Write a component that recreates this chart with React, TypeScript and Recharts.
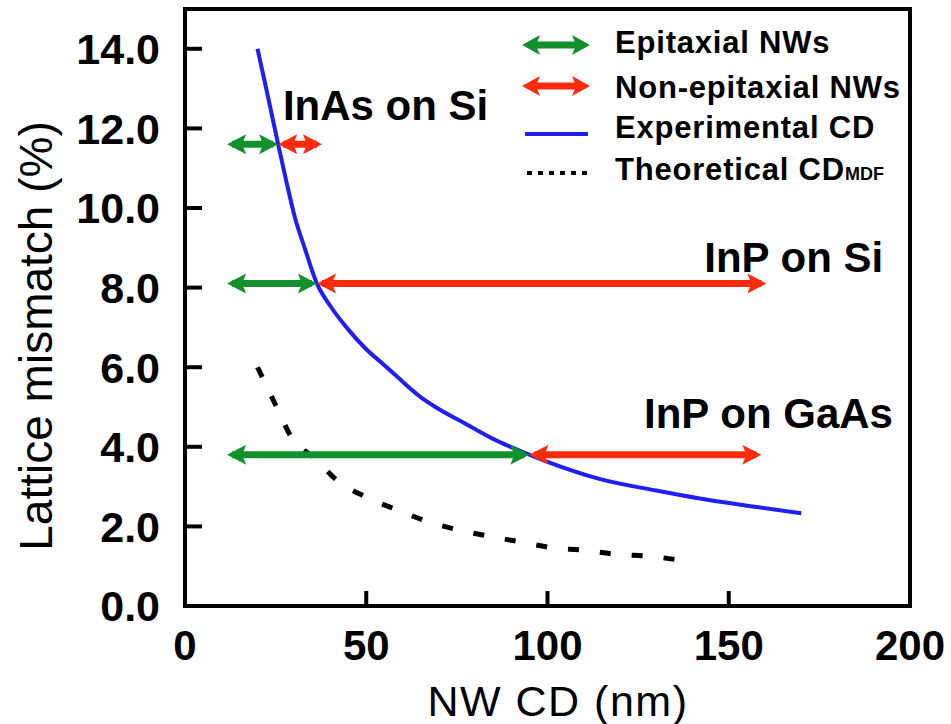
import React from 'react';
import { ComposedChart, Line, XAxis, YAxis, ReferenceArea, ReferenceDot, Legend } from 'recharts';

const FONT = '"Liberation Sans", Arial, Helvetica, sans-serif';
const GREEN = '#12902c';
const RED = '#ff2b0e';
const BLUE = '#1f1ff2';

const experimentalCD = [
  { x: 20, y: 14.0 }, { x: 23, y: 12.75 }, { x: 25.7, y: 11.6 }, { x: 28, y: 10.65 },
  { x: 30.3, y: 9.77 }, { x: 33, y: 9.0 }, { x: 36.4, y: 8.1 }, { x: 40, y: 7.55 },
  { x: 45, y: 6.95 }, { x: 50, y: 6.45 }, { x: 55, y: 6.05 }, { x: 59, y: 5.72 },
  { x: 65, y: 5.25 }, { x: 70, y: 4.95 }, { x: 78, y: 4.55 }, { x: 85, y: 4.2 },
  { x: 95, y: 3.8 }, { x: 100, y: 3.62 }, { x: 114, y: 3.2 }, { x: 130, y: 2.9 },
  { x: 142, y: 2.7 }, { x: 155, y: 2.52 }, { x: 170, y: 2.33 },
];

const theoreticalCD = [
  { x: 20, y: 6.0 }, { x: 25, y: 5.05 }, { x: 29.5, y: 4.22 }, { x: 36, y: 3.7 },
  { x: 42, y: 3.15 }, { x: 49.6, y: 2.75 }, { x: 59, y: 2.4 }, { x: 67, y: 2.12 },
  { x: 76, y: 1.9 }, { x: 84, y: 1.75 }, { x: 92, y: 1.62 }, { x: 101, y: 1.47 },
  { x: 110, y: 1.4 }, { x: 119, y: 1.3 }, { x: 128, y: 1.25 }, { x: 138.8, y: 1.12 },
];

const inAsEpitaxial = [{ x: 13, y: 11.6 }, { x: 24.3, y: 11.6 }];
const inAsNonEpitaxial = [{ x: 27.1, y: 11.6 }, { x: 36.4, y: 11.6 }];
const inPSiEpitaxial = [{ x: 13, y: 8.1 }, { x: 35, y: 8.1 }];
const inPSiNonEpitaxial = [{ x: 37.8, y: 8.1 }, { x: 159, y: 8.1 }];
const inPGaAsEpitaxial = [{ x: 13, y: 3.8 }, { x: 93.6, y: 3.8 }];
const inPGaAsNonEpitaxial = [{ x: 96.4, y: 3.8 }, { x: 157.6, y: 3.8 }];

const xTicks = [0, 50, 100, 150, 200];
const yTicks = [0, 2, 4, 6, 8, 10, 12, 14];

const annotations = [
  { text: 'InAs on Si', x: 27, y: 12.21, anchor: 'start' },
  { text: 'InP on Si', x: 192.6, y: 8.39, anchor: 'end' },
  { text: 'InP on GaAs', x: 195.3, y: 4.47, anchor: 'end' },
];

const legendItems = ['Epitaxial NWs', 'Non-epitaxial NWs', 'Experimental CD', 'Theoretical CD'];

const makeArrowHead = (color: string) => (p: any) => {
  const { cx, cy, index } = p;
  if (cx == null || cy == null) return <g key={index} />;
  const dir = index === 0 ? -1 : 1;
  const tip = cx + dir * 5;
  const base = cx - dir * 14;
  const notch = base + dir * 4;
  return (
    <polygon
      key={index}
      points={`${tip},${cy} ${base},${cy - 10} ${notch},${cy} ${base},${cy + 10}`}
      fill={color}
    />
  );
};

const YTick = (p: any) => {
  const { x, y, payload } = p;
  return (
    <g>
      <line x1={x} y1={y} x2={x + 17} y2={y} stroke="#000" strokeWidth={4} />
      <text x={x - 25} y={y} dy="0.36em" textAnchor="end" fontFamily={FONT} fontWeight="bold" fontSize={43} fill="#000">
        {Number(payload.value).toFixed(1)}
      </text>
    </g>
  );
};

const XTick = (p: any) => {
  const { x, y, payload } = p;
  return (
    <g>
      <line x1={x} y1={y} x2={x} y2={y - 15} stroke="#000" strokeWidth={4} />
      <text x={x} y={y + 54} textAnchor="middle" fontFamily={FONT} fontWeight="bold" fontSize={42} fill="#000">
        {payload.value}
      </text>
    </g>
  );
};

const DoubleArrowIcon = ({ x1, x2, y, color }: any) => (
  <g>
    <line x1={x1 + 10} y1={y} x2={x2 - 10} y2={y} stroke={color} strokeWidth={7} />
    <polygon points={`${x1},${y} ${x1 + 18},${y - 10} ${x1 + 14},${y} ${x1 + 18},${y + 10}`} fill={color} />
    <polygon points={`${x2},${y} ${x2 - 18},${y - 10} ${x2 - 14},${y} ${x2 - 18},${y + 10}`} fill={color} />
  </g>
);

const LegendBox = () => {
  const tx = 115;
  const base = [43, 88, 128, 170];
  const textProps = { fontFamily: FONT, fontWeight: 'bold' as const, fontSize: 31, letterSpacing: 0.8, fill: '#000' };
  return (
    <svg width={420} height={200} style={{ display: 'block' }}>
      <DoubleArrowIcon x1={22} x2={90} y={35} color={GREEN} />
      <text x={tx} y={base[0]} {...textProps}>{legendItems[0]}</text>
      <DoubleArrowIcon x1={22} x2={90} y={76} color={RED} />
      <text x={tx} y={base[1]} {...textProps}>{legendItems[1]}</text>
      <line x1={25} y1={124} x2={88} y2={124} stroke={BLUE} strokeWidth={4} />
      <text x={tx} y={base[2]} {...textProps}>{legendItems[2]}</text>
      <line x1={27} y1={163} x2={93} y2={163} stroke="#000" strokeWidth={4} strokeDasharray="5 6" />
      <text x={tx} y={base[3]} {...textProps}>
        {legendItems[3]}
        <tspan fontSize={18} letterSpacing={0}>MDF</tspan>
      </text>
    </svg>
  );
};

export default function App() {
  return (
    <div style={{ position: 'absolute', left: 0, top: 0, background: '#fff' }}>
      <ComposedChart width={951} height={724} margin={{ top: 9, right: 41, bottom: 0, left: 0 }}>
        <XAxis
          type="number"
          dataKey="x"
          domain={[0, 200]}
          ticks={xTicks}
          height={118}
          tickSize={0}
          tickMargin={0}
          tick={<XTick />}
          axisLine={{ stroke: '#000', strokeWidth: 4 }}
          tickLine={false}
          interval={0}
          allowDataOverflow
          label={{
            value: 'NW CD (nm)',
            content: () => (
              <text x={558} y={716} textAnchor="middle" fontFamily={FONT} fontSize={43} letterSpacing={1.5} fill="#000">
                NW CD (nm)
              </text>
            ),
          }}
        />
        <YAxis
          type="number"
          domain={[0, 15]}
          ticks={yTicks}
          width={185}
          tickSize={0}
          tickMargin={0}
          tick={<YTick />}
          axisLine={{ stroke: '#000', strokeWidth: 4 }}
          tickLine={false}
          interval={0}
          allowDataOverflow
          label={{
            value: 'Lattice mismatch (%)',
            content: () => (
              <text transform="translate(52,336) rotate(-90)" textAnchor="middle" fontFamily={FONT} fontSize={46} fill="#000">
                Lattice mismatch (%)
              </text>
            ),
          }}
        />
        <ReferenceArea x1={0} x2={200} y1={0} y2={15} fill="none" stroke="#000" strokeWidth={4} ifOverflow="visible" />
        <Legend
          layout="horizontal"
          verticalAlign="middle"
          align="center"
          wrapperStyle={{ left: 500, top: 10, width: 420, height: 200 }}
          content={() => <LegendBox />}
        />
        <Line data={theoreticalCD} dataKey="y" type="monotone" stroke="#000" strokeWidth={5} strokeDasharray="11 21" dot={false} isAnimationActive={false} legendType="none" />
        <Line data={experimentalCD} dataKey="y" type="monotone" stroke={BLUE} strokeWidth={4} dot={false} isAnimationActive={false} legendType="none" />
        <Line data={inAsEpitaxial} dataKey="y" type="linear" stroke={GREEN} strokeWidth={7} dot={makeArrowHead(GREEN)} isAnimationActive={false} legendType="none" />
        <Line data={inAsNonEpitaxial} dataKey="y" type="linear" stroke={RED} strokeWidth={7} dot={makeArrowHead(RED)} isAnimationActive={false} legendType="none" />
        <Line data={inPSiEpitaxial} dataKey="y" type="linear" stroke={GREEN} strokeWidth={7} dot={makeArrowHead(GREEN)} isAnimationActive={false} legendType="none" />
        <Line data={inPSiNonEpitaxial} dataKey="y" type="linear" stroke={RED} strokeWidth={7} dot={makeArrowHead(RED)} isAnimationActive={false} legendType="none" />
        <Line data={inPGaAsEpitaxial} dataKey="y" type="linear" stroke={GREEN} strokeWidth={7} dot={makeArrowHead(GREEN)} isAnimationActive={false} legendType="none" />
        <Line data={inPGaAsNonEpitaxial} dataKey="y" type="linear" stroke={RED} strokeWidth={7} dot={makeArrowHead(RED)} isAnimationActive={false} legendType="none" />
        {annotations.map((a) => (
          <ReferenceDot
            key={a.text}
            x={a.x}
            y={a.y}
            r={0}
            ifOverflow="visible"
            shape={(p: any) => (
              <text x={p.cx} y={p.cy} textAnchor={a.anchor as any} fontFamily={FONT} fontWeight="bold" fontSize={42} fill="#000">
                {a.text}
              </text>
            )}
          />
        ))}
      </ComposedChart>
    </div>
  );
}
